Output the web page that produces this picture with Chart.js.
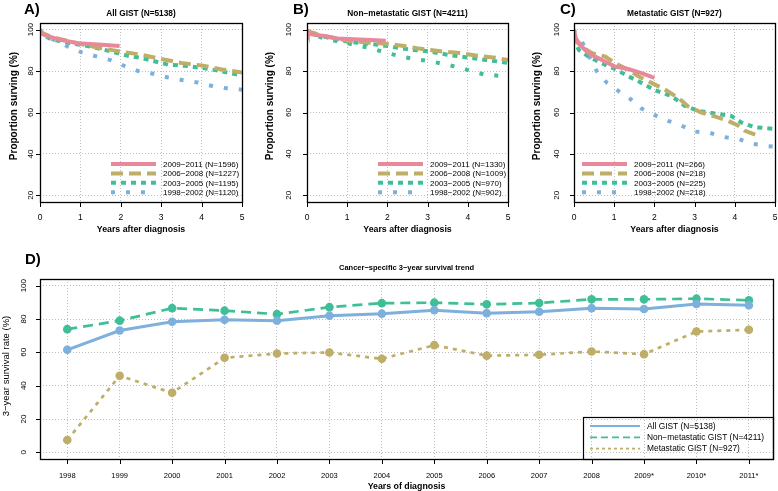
<!DOCTYPE html>
<html><head><meta charset="utf-8">
<script src="https://cdn.jsdelivr.net/npm/chart.js@4/dist/chart.umd.min.js"></script>
<style>
html,body{margin:0;padding:0;background:#fff;}
#wrap{position:relative;width:778px;height:491px;overflow:hidden;background:#fff;}
canvas{position:absolute;left:0;top:0;}
</style></head><body><div id="wrap">
<canvas id="cA" width="778" height="491"></canvas>
<canvas id="cB" width="778" height="491"></canvas>
<canvas id="cC" width="778" height="491"></canvas>
<canvas id="cD" width="778" height="491"></canvas>
</div>
<script>
// ---------- DATA ----------
const kmXTicks = [0, 1, 2, 3, 4, 5];
const kmYTicks = [20, 40, 60, 80, 100];
const kmGroups = ["2009\u22122011", "2006\u22122008", "2003\u22122005", "1998\u22122002"];
const nA = [1596, 1227, 1195, 1120];
const nB = [1330, 1009, 970, 902];
const nC = [266, 218, 225, 218];

// Panel A: All GIST
const aT0911 = [0, 0.03, 0.12, 0.45, 0.94, 1.44, 1.97];
const aS0911 = [100, 98.2, 97.3, 95.3, 93.4, 92.8, 92.1];
const aT0608 = [0, 0.05, 0.28, 1.0, 1.52, 2.1, 2.51, 3.0, 3.5, 4.0, 4.5, 5.0];
const aS0608 = [100, 98.5, 96.5, 93.1, 91.0, 89.1, 87.9, 85.8, 83.9, 82.7, 80.8, 79.3];
const aT0305 = [0, 0.05, 0.28, 0.78, 1.27, 1.77, 2.18, 2.51, 3.17, 3.67, 4.25, 4.58, 5.0];
const aS0305 = [100, 97.8, 95.3, 93.4, 91.8, 89.4, 87.4, 86.3, 83.1, 82.4, 80.8, 79.5, 77.8];
const aT9802 = [0, 0.05, 0.28, 0.69, 1.02, 1.39, 1.77, 2.10, 2.43, 2.80, 3.17, 3.54, 3.91, 4.24, 4.61, 4.90, 5.0];
const aS9802 = [100, 98.5, 95.7, 91.8, 89.1, 87.1, 85.2, 82.4, 80.0, 78.7, 76.9, 75.6, 74.5, 72.9, 71.7, 71.3, 71.0];

// Panel B: Non-metastatic GIST
const bT0911 = [0, 0.02, 0.1, 0.43, 0.76, 1.17, 1.59, 1.96];
const bS0911 = [100, 98.9, 97.8, 96.9, 95.7, 95.3, 95.0, 94.6];
const bT0608 = [0, 0.02, 0.35, 1.01, 1.59, 2.0, 2.41, 2.74, 3.07, 3.4, 3.82, 4.23, 4.73, 5.0];
const bS0608 = [100, 99.2, 97.3, 94.6, 93.7, 93.1, 92.1, 91.0, 90.2, 89.4, 88.7, 87.4, 86.3, 85.3];
const bT0305 = [0, 0.02, 0.43, 1.01, 1.59, 2.0, 2.33, 2.66, 3.07, 3.49, 3.9, 4.4, 5.0];
const bS0305 = [100, 98.4, 96.5, 94.2, 93.1, 92.1, 91.0, 90.2, 89.4, 87.9, 86.8, 85.5, 84.0];
const bT9802 = [0, 0.02, 0.43, 1.01, 1.59, 2.0, 2.33, 2.66, 3.07, 3.49, 3.9, 4.07, 4.4, 5.0];
const bS9802 = [100, 98.4, 95.7, 93.4, 91.0, 88.7, 87.1, 85.8, 84.7, 83.1, 81.1, 80.0, 78.4, 77.3];

// Panel C: Metastatic GIST
const cT0911 = [0, 0.01, 0.05, 0.16, 0.36, 0.69, 1.02, 1.35, 1.68, 2.0];
const cS0911 = [100, 98.9, 95.6, 92.5, 88.6, 85.4, 82.2, 81.0, 79.0, 76.7];
const cT0608 = [0, 0.02, 0.2, 0.45, 0.78, 1.02, 1.35, 1.6, 1.93, 2.26, 2.59, 2.84, 3.17, 3.5, 3.83, 4.08, 4.24, 4.57];
const cS0608 = [97, 94.9, 91.7, 88.6, 87.0, 83.8, 80.6, 77.5, 74.3, 71.1, 67.1, 62.9, 60.0, 58.1, 56.0, 53.7, 51.3, 48.9];
const cT0305 = [0, 0.02, 0.12, 0.36, 0.69, 1.02, 1.35, 1.68, 2.01, 2.43, 2.76, 3.09, 3.5, 3.91, 4.16, 4.49, 5.0];
const cS0305 = [96, 94, 90.2, 87.0, 83.8, 81.0, 77.5, 74.3, 70.8, 67.9, 63.2, 60.8, 59.5, 58.4, 55.2, 52.9, 52.1];
const cT9802 = [0, 0.02, 0.2, 0.4, 0.57, 0.82, 1.11, 1.39, 1.68, 2.01, 2.34, 2.67, 3.0, 3.37, 3.75, 4.08, 4.45, 4.82, 5.0];
const cS9802 = [100, 98.5, 94.1, 86.2, 79.8, 74.3, 70.3, 66.7, 61.9, 58.7, 56.0, 53.7, 50.8, 50.2, 48.1, 47.3, 44.9, 43.8, 43.5];

// Panel D: 3-year survival trend
const dYears = [1998, 1999, 2000, 2001, 2002, 2003, 2004, 2005, 2006, 2007, 2008, 2009, 2010, 2011];
const dYearLabels = ["1998", "1999", "2000", "2001", "2002", "2003", "2004", "2005", "2006", "2007", "2008", "2009*", "2010*", "2011*"];
const dYTicks = [0, 20, 40, 60, 80, 100];
const dAll = [61.5, 73.1, 78.3, 79.5, 79.0, 82.0, 83.2, 85.3, 83.5, 84.4, 86.5, 86.0, 89.0, 88.3];
const dNonMet = [73.9, 79.0, 86.5, 85.0, 82.9, 87.1, 89.5, 89.8, 88.8, 89.6, 91.8, 91.8, 92.2, 91.2];
const dMet = [7.4, 45.9, 35.7, 56.7, 59.3, 59.9, 56.1, 64.3, 58.0, 58.5, 60.5, 58.9, 72.5, 73.5];
const dSeriesNames = ["All GIST (N=5138)", "Non\u2212metastatic GIST (N=4211)", "Metastatic GIST (N=927)"];

// ---------- STYLE ----------
const PINK = '#E8899B', OLIVE = '#BEAE68', TEAL = '#3FBE97', BLUE = '#7EB0DD';
const FONT = '"Liberation Sans", Arial, Helvetica, sans-serif';
const GRID = '#bdbdbd';
function fnt(size, bold) { return (bold ? 'bold ' : '') + size + 'px ' + FONT; }
function pts(t, v) { return t.map((x, i) => ({ x: x, y: v[i] })); }

const deco = {
  id: 'deco',
  afterDraw(chart, args, o) {
    const ctx = chart.ctx, a = chart.chartArea, xs = chart.scales.x, ys = chart.scales.y;
    ctx.save();
    // box
    ctx.strokeStyle = '#000'; ctx.lineWidth = 1.3; ctx.setLineDash([]);
    ctx.strokeRect(Math.round(a.left) + 0.5, Math.round(a.top) + 0.5, Math.round(a.right - a.left), Math.round(a.bottom - a.top));
    // tick marks
    ctx.lineWidth = 1;
    ctx.beginPath();
    o.xTicks.forEach(v => { const p = Math.round(xs.getPixelForValue(v)) + 0.5; ctx.moveTo(p, a.bottom); ctx.lineTo(p, a.bottom + 5); });
    o.yTicks.forEach(v => { const p = Math.round(ys.getPixelForValue(v)) + 0.5; ctx.moveTo(a.left, p); ctx.lineTo(a.left - 4, p); });
    ctx.stroke();
    ctx.fillStyle = '#000';
    ctx.textAlign = 'center'; ctx.textBaseline = 'middle';
    // x tick labels
    ctx.font = fnt(o.xTickSize, false);
    o.xTicks.forEach((v, i) => ctx.fillText(o.xLabels[i], xs.getPixelForValue(v), o.xLabY));
    // y tick labels rotated
    ctx.font = fnt(o.yTickSize, false);
    o.yTicks.forEach(v => {
      ctx.save(); ctx.translate(o.yLabX, ys.getPixelForValue(v)); ctx.rotate(-Math.PI / 2);
      ctx.fillText(String(v), 0, 0); ctx.restore();
    });
    // axis titles
    ctx.font = fnt(o.xTitleSize, true);
    ctx.fillText(o.xTitle, (a.left + a.right) / 2, o.xTitleY);
    ctx.save(); ctx.translate(o.yTitleX, o.yTitleY); ctx.rotate(-Math.PI / 2);
    ctx.font = fnt(o.yTitleSize, o.yTitleBold); ctx.fillText(o.yTitle, 0, 0); ctx.restore();
    // panel title
    ctx.font = fnt(o.titleSize, true);
    ctx.fillText(o.title, (a.left + a.right) / 2, o.titleY);
    // letter
    ctx.textAlign = 'left';
    ctx.font = fnt(15, true);
    ctx.fillText(o.letter, o.letterX, o.letterY);
    // legend
    const L = o.legend;
    if (L.box) {
      ctx.lineWidth = 1.2; ctx.strokeStyle = '#000';
      ctx.strokeRect(L.box[0] + 0.5, L.box[1] + 0.5, L.box[2], L.box[3]);
    }
    chart.data.datasets.forEach((ds, i) => {
      const y = L.y0 + i * L.dy;
      ctx.save();
      ctx.strokeStyle = ds.legendColor || ds.borderColor;
      ctx.lineWidth = L.lw || ds.borderWidth;
      ctx.setLineDash(L.dash ? L.dash[i] : (ds.borderDash || []));
      ctx.beginPath(); ctx.moveTo(L.x1, y); ctx.lineTo(L.x2, y); ctx.stroke();
      ctx.restore();
      ctx.fillStyle = '#000'; ctx.font = fnt(L.size, false); ctx.textAlign = 'left';
      ctx.fillText(ds.label, L.tx, y + 0.5);
    });
    ctx.restore();
  }
};

function kmDatasets(sets, ns, overrideColors) {
  const cols = [PINK, OLIVE, TEAL, BLUE];
  const dashes = [[], [12, 6], [5, 5], [4, 11]];
  return sets.map((s, i) => ({
    label: kmGroups[i] + ' (N=' + ns[i] + ')',
    data: pts(s[0], s[1]),
    borderColor: (overrideColors && overrideColors[i]) || cols[i],
    legendColor: cols[i],
    borderWidth: 4,
    borderDash: dashes[i],
    pointRadius: 0,
    tension: 0,
    fill: false
  }));
}

function kmChart(id, pad, sets, ns, title, letter, letterX, yLabX, yTitleX, legX, override) {
  const ds = kmDatasets(sets, ns, override);
  return new Chart(document.getElementById(id), {
    type: 'line',
    data: { datasets: ds },
    options: {
      responsive: false, animation: false, events: [],
      layout: { padding: pad },
      plugins: {
        legend: { display: false }, tooltip: { enabled: false },
        deco: {
          xTicks: kmXTicks, xLabels: kmXTicks.map(String), yTicks: kmYTicks,
          xTickSize: 8.5, yTickSize: 8, xLabY: 218, yLabX: yLabX,
          xTitle: 'Years after diagnosis', xTitleY: 230, xTitleSize: 8.8,
          yTitle: 'Proportion surving (%)', yTitleX: yTitleX, yTitleY: 106, yTitleSize: 10, yTitleBold: true,
          title: title, titleY: 14, titleSize: 8.3,
          letter: letter, letterX: letterX, letterY: 9.5,
          legend: { x1: legX, x2: legX + 45, tx: legX + 52, y0: 164, dy: 9.4, size: 8 }
        }
      },
      scales: {
        x: {
          type: 'linear', min: 0, max: 5,
          afterBuildTicks: s => { s.ticks = kmXTicks.map(v => ({ value: v })); },
          ticks: { display: false },
          grid: { color: GRID, lineWidth: 1, drawTicks: false },
          border: { display: false, dash: [1, 2] }
        },
        y: {
          type: 'linear', min: 16.8, max: 103.2,
          afterBuildTicks: s => { s.ticks = kmYTicks.map(v => ({ value: v })); },
          ticks: { display: false },
          grid: { color: GRID, lineWidth: 1, drawTicks: false },
          border: { display: false, dash: [1, 2] }
        }
      }
    },
    plugins: [deco]
  });
}

kmChart('cA', { left: 40, top: 23, right: 536, bottom: 289 },
  [[aT0911, aS0911], [aT0608, aS0608], [aT0305, aS0305], [aT9802, aS9802]], nA,
  'All GIST (N=5138)', 'A)', 24, 30.5, 14.5, 111);
kmChart('cB', { left: 307, top: 23, right: 270, bottom: 289 },
  [[bT0911, bS0911], [bT0608, bS0608], [bT0305, bS0305], [bT9802, bS9802]], nB,
  'Non\u2212metastatic GIST (N=4211)', 'B)', 293, 288.5, 270, 378, [null, null, null, TEAL]);
kmChart('cC', { left: 574, top: 23, right: 3, bottom: 289 },
  [[cT0911, cS0911], [cT0608, cS0608], [cT0305, cS0305], [cT9802, cS9802]], nC,
  'Metastatic GIST (N=927)', 'C)', 560, 557, 537, 582);

// Panel D
const dCols = [BLUE, TEAL, OLIVE];
const dDash = [[], [10, 6], [4, 5]];
const dVals = [dAll, dNonMet, dMet];
new Chart(document.getElementById('cD'), {
  type: 'line',
  data: {
    datasets: dVals.map((v, i) => ({
      label: dSeriesNames[i],
      data: pts(dYears, v),
      borderColor: dCols[i], backgroundColor: dCols[i],
      borderWidth: i === 0 ? 3 : 2.7,
      borderDash: dDash[i],
      pointRadius: 4.3, pointBackgroundColor: dCols[i], pointBorderColor: dCols[i], pointBorderWidth: 0,
      tension: 0, fill: false
    }))
  },
  options: {
    responsive: false, animation: false, events: [],
    layout: { padding: { left: 40, top: 279, right: 5, bottom: 32 } },
    plugins: {
      legend: { display: false }, tooltip: { enabled: false },
      deco: {
        xTicks: dYears, xLabels: dYearLabels, yTicks: dYTicks,
        xTickSize: 7.5, yTickSize: 8, xLabY: 476, yLabX: 24,
        xTitle: 'Years of diagnosis', xTitleY: 486.5, xTitleSize: 8.8,
        yTitle: '3\u2212year survival rate (%)', yTitleX: 6, yTitleY: 366, yTitleSize: 9.5, yTitleBold: false,
        title: 'Cancer\u2212specific 3\u2212year survival trend', titleY: 268, titleSize: 7.5,
        letter: 'D)', letterX: 25, letterY: 260,
        legend: { box: [583, 417, 190, 42], x1: 590, x2: 640, tx: 647, y0: 426, dy: 11.3, size: 8.4, lw: 1.8,
                  dash: [[], [7, 4], [3, 3]] }
      }
    },
    scales: {
      x: {
        type: 'linear', min: 1997.48, max: 2011.46,
        afterBuildTicks: s => { s.ticks = dYears.map(v => ({ value: v })); },
        ticks: { display: false },
        grid: { color: GRID, lineWidth: 1, drawTicks: false },
        border: { display: false, dash: [1, 2] }
      },
      y: {
        type: 'linear', min: -4, max: 104,
        afterBuildTicks: s => { s.ticks = dYTicks.map(v => ({ value: v })); },
        ticks: { display: false },
        grid: { color: GRID, lineWidth: 1, drawTicks: false },
        border: { display: false, dash: [1, 2] }
      }
    }
  },
  plugins: [deco]
});
</script>
</body></html>
